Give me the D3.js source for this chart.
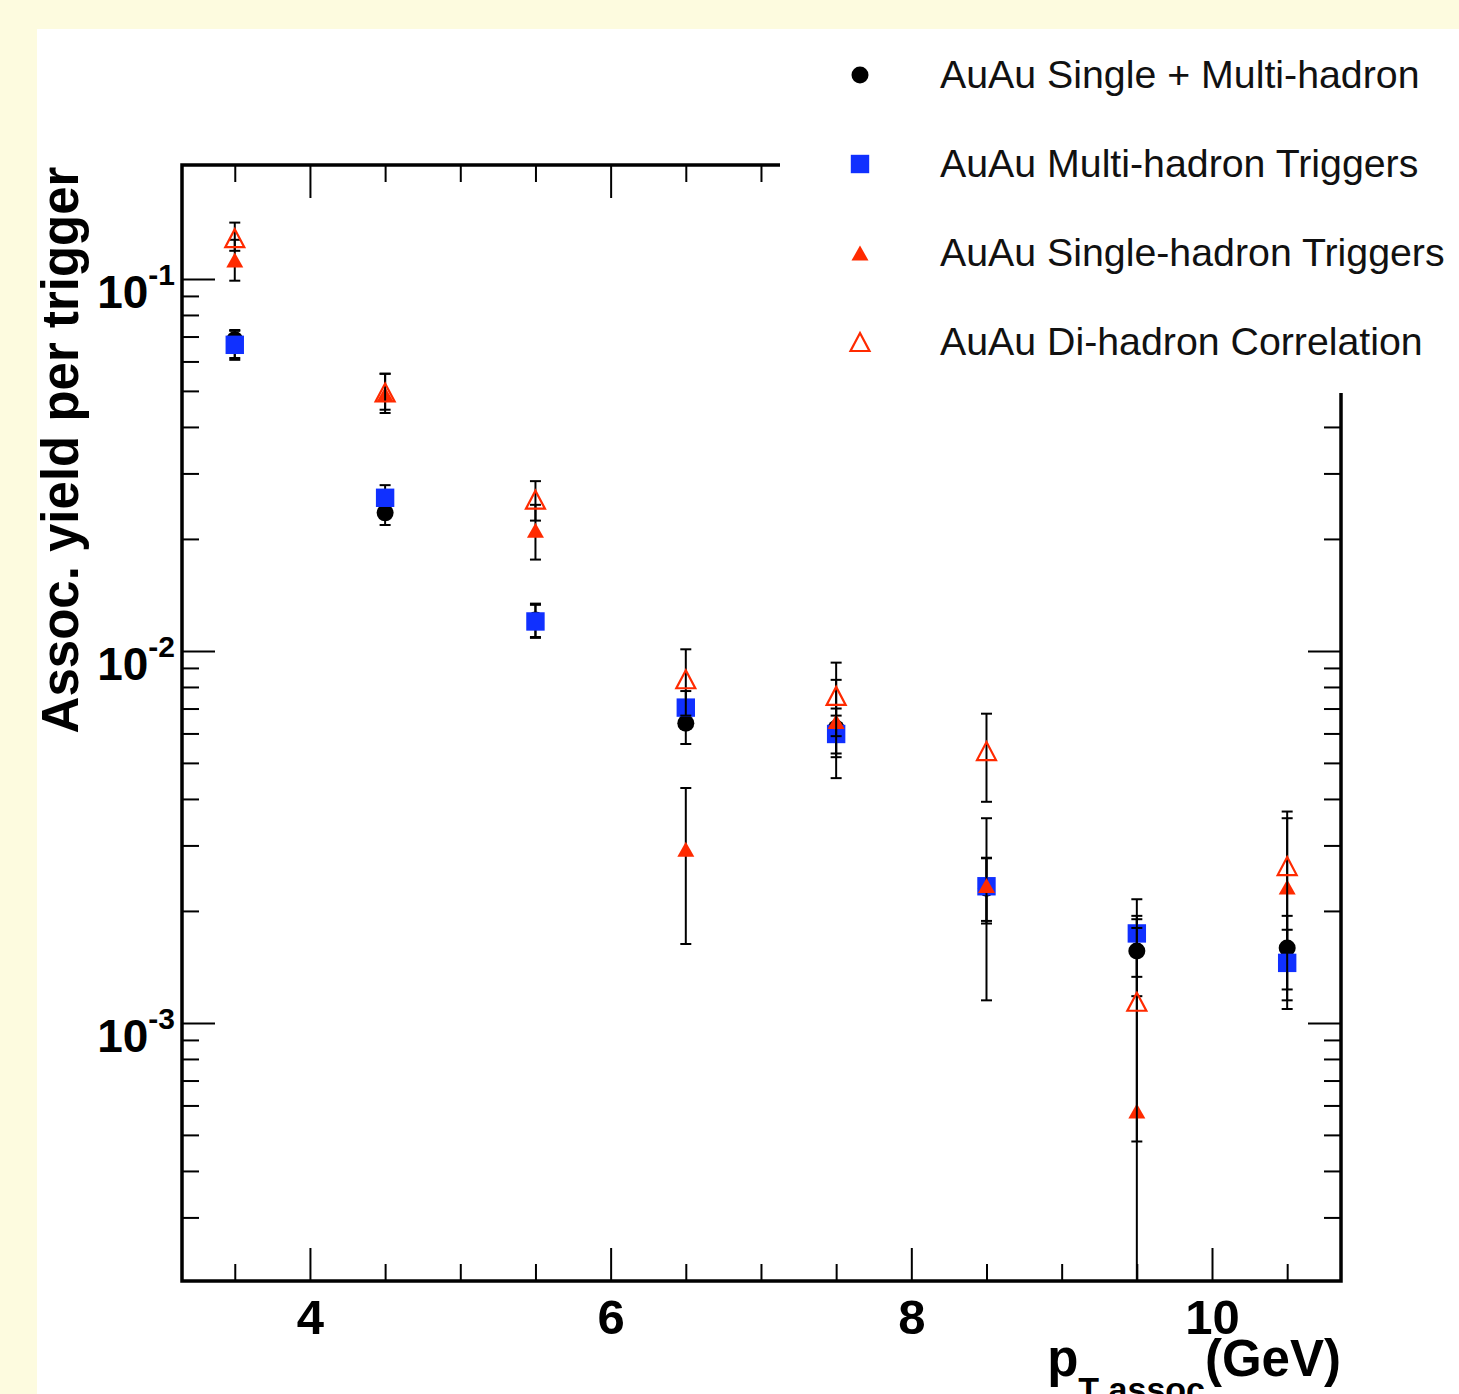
<!DOCTYPE html>
<html><head><meta charset="utf-8">
<script src="https://cdn.jsdelivr.net/npm/d3@7"></script>
<style>
html,body{margin:0;padding:0;background:#fdfbdf;}
svg{display:block;}
text{font-family:"Liberation Sans",Arial,Helvetica,sans-serif;}
</style></head><body>
<svg id="chart" width="1459" height="1394"></svg>
<script>
// ---------------- data ----------------
const ptAssoc = [3.5, 4.5, 5.5, 6.5, 7.5, 8.5, 9.5, 10.5];

const seriesNames = [
  "AuAu Single + Multi-hadron",
  "AuAu Multi-hadron Triggers",
  "AuAu Single-hadron Triggers",
  "AuAu Di-hadron Correlation"
];

// AuAu Single + Multi-hadron (black circles)
const combinedY  = [0.0686, 0.0235, 0.0121, 0.00639, 0.0062, 0.0023, 0.00156, 0.00159];
const combinedLo = [0.0613, 0.0218, 0.0109, 0.00562, 0.0053, 0.00185, 0.00118, 0.00123];
const combinedHi = [0.0729, 0.0255, 0.0134, 0.0072, 0.0070, 0.00277, 0.00194, 0.00194];

// AuAu Multi-hadron Triggers (blue squares)
const multiY  = [0.0665, 0.0258, 0.0120, 0.00704, 0.00598, 0.00233, 0.00174, 0.00145];
const multiLo = [0.0606, 0.0240, 0.01084, 0.0063, 0.00518, 0.00188, 0.00133, 0.00115];
const multiHi = [0.0725, 0.0279, 0.0133, 0.0078, 0.0067, 0.00278, 0.00215, 0.00178];

// AuAu Single-hadron Triggers (red filled triangles)
const singleY  = [0.1125, 0.049, 0.0211, 0.00293, 0.00646, 0.00234, 0.00058, 0.00232];
const singleLo = [0.0989, 0.0436, 0.0176, 0.00163, 0.00455, 0.00115, 0, 0.00109];
const singleHi = [0.1274, 0.0556, 0.0247, 0.00428, 0.00836, 0.00355, 0.0019, 0.00355];

// AuAu Di-hadron Correlation (red open triangles)
const dihadY  = [0.1287, 0.0495, 0.0255, 0.00839, 0.00757, 0.00538, 0.00114, 0.00264];
const dihadLo = [0.119, 0.0445, 0.0224, 0.0067, 0.0059, 0.00393, 0.00048, 0.00158];
const dihadHi = [0.1417, 0.0556, 0.0286, 0.0101, 0.0093, 0.00678, 0.0018, 0.0037];

const xMajorTicks = [4, 6, 8, 10];
const xTickLabels = ["4", "6", "8", "10"];
const yMajorTicks = [1e-3, 1e-2, 1e-1];
const yTickBase = ["10", "10", "10"];
const yTickExp  = ["-3", "-2", "-1"];

const xDomain = [3.149, 10.858];
const yDomain = [2.024e-4, 0.2024];

// ---------------- layout ----------------
const W = 1459, H = 1394;
const L = 182, R = 1341, T = 165, B = 1281;
const svg = d3.select("#chart");

svg.append("rect").attr("width", W).attr("height", H).attr("fill", "#fdfbdf");
svg.append("rect").attr("x", 37).attr("y", 29).attr("width", W - 37).attr("height", H - 29).attr("fill", "#ffffff");

const x = d3.scaleLinear().domain(xDomain).range([L, R]);
const y = d3.scaleLog().domain(yDomain).range([B, T]);

// tick positions
const xMinorTicks = d3.range(3, 11.01, 0.5).filter(v => !xMajorTicks.includes(v) && x(v) > L + 3 && x(v) < R - 3);
const yMinorTicks = [];
[1e-4, 1e-3, 1e-2, 1e-1].forEach(d => { for (let k = 2; k <= 9; k++) yMinorTicks.push(d * k); });
const yMinor = yMinorTicks.filter(v => y(v) < B - 3 && y(v) > T + 3);

function styleAxis(g) {
  g.select(".domain").remove();
  g.selectAll(".tick line").attr("stroke", "#000").attr("stroke-width", 2);
}

const MAJ = 33, MIN = 17;
// bottom
svg.append("g").attr("transform", `translate(0,${B})`)
  .call(d3.axisBottom(x).tickValues(xMinorTicks).tickSize(-MIN).tickFormat(""))
  .call(styleAxis);
const xb = svg.append("g").attr("transform", `translate(0,${B})`)
  .call(d3.axisBottom(x).tickValues(xMajorTicks).tickSize(-MAJ).tickPadding(18)
        .tickFormat((d, i) => xTickLabels[i]))
  .call(styleAxis);
xb.selectAll(".tick text").attr("font-size", 49).attr("font-weight", "bold")
  .attr("fill", "#000").attr("font-family", "'Liberation Sans',Arial,sans-serif");
// top
svg.append("g").attr("transform", `translate(0,${T})`)
  .call(d3.axisTop(x).tickValues(xMinorTicks).tickSize(-MIN).tickFormat(""))
  .call(styleAxis);
svg.append("g").attr("transform", `translate(0,${T})`)
  .call(d3.axisTop(x).tickValues(xMajorTicks).tickSize(-MAJ).tickFormat(""))
  .call(styleAxis);
// left
svg.append("g").attr("transform", `translate(${L},0)`)
  .call(d3.axisLeft(y).tickValues(yMinor).tickSize(-MIN).tickFormat(""))
  .call(styleAxis);
const yl = svg.append("g").attr("transform", `translate(${L},0)`)
  .call(d3.axisLeft(y).tickValues(yMajorTicks).tickSize(-MAJ).tickFormat(""))
  .call(styleAxis);
yl.selectAll(".tick").each(function(d, i) {
  const t = d3.select(this).select("text")
    .attr("x", -7).attr("dy", null).attr("y", 29)
    .attr("text-anchor", "end").attr("fill", "#000")
    .attr("font-weight", "bold").attr("font-family", "'Liberation Sans',Arial,sans-serif");
  t.text(null);
  t.append("tspan").attr("font-size", 46).text(yTickBase[i]);
  t.append("tspan").attr("font-size", 30).attr("dy", -23).text(yTickExp[i]);
});
// right
svg.append("g").attr("transform", `translate(${R},0)`)
  .call(d3.axisRight(y).tickValues(yMinor).tickSize(-MIN).tickFormat(""))
  .call(styleAxis);
svg.append("g").attr("transform", `translate(${R},0)`)
  .call(d3.axisRight(y).tickValues(yMajorTicks).tickSize(-MAJ).tickFormat(""))
  .call(styleAxis);

// frame
svg.append("rect").attr("x", L).attr("y", T).attr("width", R - L).attr("height", B - T)
  .attr("fill", "none").attr("stroke", "#000").attr("stroke-width", 3.5);

// ---------------- data marks ----------------
const BLUE = "#1030ff", RED = "#ff2a00";
svg.append("clipPath").attr("id", "plotclip").append("rect")
  .attr("x", L).attr("y", T).attr("width", R - L).attr("height", B - T);
const plot = svg.append("g").attr("clip-path", "url(#plotclip)");

function triPath(w, h) {
  return `M0,${-h/2}L${w/2},${h/2}L${-w/2},${h/2}Z`;
}

const series = [
  {vals: combinedY, lo: combinedLo, hi: combinedHi, kind: "circle"},
  {vals: multiY, lo: multiLo, hi: multiHi, kind: "square"},
  {vals: singleY, lo: singleLo, hi: singleHi, kind: "ftri"},
  {vals: dihadY, lo: dihadLo, hi: dihadHi, kind: "otri"}
];

function drawMarker(g, kind) {
  if (kind === "circle") g.append("circle").attr("r", 8.5).attr("fill", "#000");
  else if (kind === "square") g.append("rect").attr("x", -9.2).attr("y", -9.2).attr("width", 18.4).attr("height", 18.4).attr("fill", BLUE);
  else if (kind === "ftri") g.append("path").attr("d", triPath(17, 15)).attr("fill", RED);
  else g.append("path").attr("d", triPath(19, 18)).attr("fill", "none").attr("stroke", RED).attr("stroke-width", 2.2);
}

const yMin = yDomain[0];
series.forEach(s => {
  const pts = ptAssoc.map((p, i) => ({p, v: s.vals[i], lo: Math.max(s.lo[i], yMin * 0.5), hi: s.hi[i], loRaw: s.lo[i]}));
  const eg = plot.append("g").attr("stroke", "#000").attr("stroke-width", 2);
  pts.forEach(d => {
    const cx = x(d.p);
    eg.append("line").attr("x1", cx).attr("x2", cx).attr("y1", y(d.hi)).attr("y2", y(d.lo));
    eg.append("line").attr("x1", cx - 5.5).attr("x2", cx + 5.5).attr("y1", y(d.hi)).attr("y2", y(d.hi));
    if (d.loRaw > yMin) eg.append("line").attr("x1", cx - 5.5).attr("x2", cx + 5.5).attr("y1", y(d.lo)).attr("y2", y(d.lo));
  });
  pts.forEach(d => {
    const g = plot.append("g").attr("transform", `translate(${x(d.p)},${y(d.v)})`);
    drawMarker(g, s.kind);
  });
});

// ---------------- legend ----------------
svg.append("rect").attr("x", 780).attr("y", 29).attr("width", W - 780).attr("height", 393 - 29).attr("fill", "#fff");
seriesNames.forEach((name, i) => {
  const yy = 75 + i * 89;
  const g = svg.append("g").attr("transform", `translate(860,${yy})`);
  drawMarker(g, series[i].kind);
  svg.append("text").attr("x", 940).attr("y", yy + 13).attr("font-size", 39.3)
    .attr("fill", "#111").text(name);
});

// ---------------- axis titles ----------------
svg.append("text")
  .attr("transform", "translate(78,450) rotate(-90)")
  .attr("text-anchor", "middle").attr("font-size", 51).attr("font-weight", "bold")
  .attr("fill", "#000").text("Assoc. yield per trigger");

const xt = svg.append("text").attr("x", R).attr("y", 1376).attr("text-anchor", "end")
  .attr("font-weight", "bold").attr("font-size", 51).attr("fill", "#000");
xt.append("tspan").text("p");
xt.append("tspan").attr("font-size", 34).attr("dy", 25).text("T assoc");
xt.append("tspan").attr("font-size", 51).attr("dy", -25).text("(GeV)");
</script>
</body></html>
